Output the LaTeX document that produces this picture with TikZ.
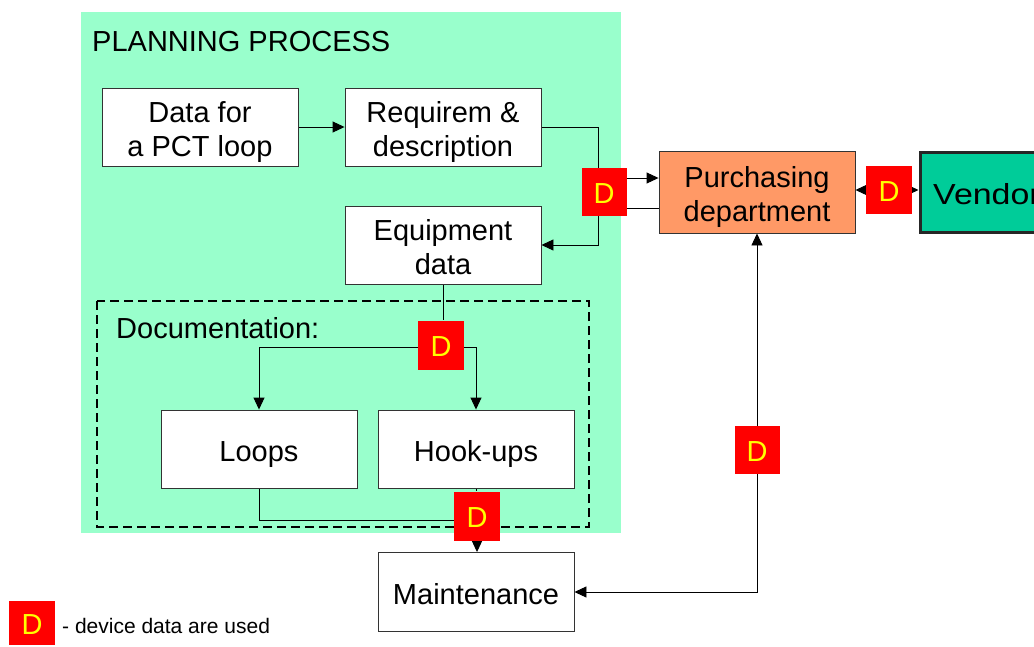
\documentclass[tikz,border=0pt]{standalone}
\usepackage{fontspec}
\setmainfont{Liberation Sans}
\usetikzlibrary{arrows.meta}
\pgfdeclarelayer{bg}
\pgfdeclarelayer{lines}
\pgfsetlayers{bg,lines,main}
\definecolor{planbg}{HTML}{99FFCC}
\definecolor{purchc}{HTML}{FF9966}
\definecolor{vendc}{HTML}{00CC99}
\definecolor{dred}{HTML}{FF0000}
\definecolor{dyel}{HTML}{FFFF00}
\tikzset{
  box/.style={draw=black!80, line width=0.9pt, fill=white, minimum width=196pt, minimum height=78pt, align=center, inner sep=0pt, text height=25pt, text depth=0pt, font=\fontsize{29}{34}\selectfont},
  twoline/.style={text height=59pt, text depth=0pt},
  dbox/.style={fill=dred, minimum width=46pt, minimum height=48pt, inner sep=0pt, text height=22pt, text depth=0pt, text=dyel, font=\fontsize{29}{34}\selectfont},
  conn/.style={draw=black, line width=0.9pt},
  arr/.style={conn, -{Triangle[length=12pt,width=11pt]}},
  lbl/.style={anchor=west, inner sep=0pt, font=\fontsize{29}{34}\selectfont},
}
\begin{document}
\begin{tikzpicture}[x=1pt,y=-1pt]
\clip (0,0) rectangle (1034,646);
\begin{pgfonlayer}{bg}
\fill[white] (0,0) rectangle (1034,646);
\fill[planbg] (81,12) rectangle (621,533);
\draw[line width=1.4pt, dash pattern=on 9pt off 5pt] (97,301) rectangle (589,527);
\end{pgfonlayer}
\node[lbl] (title) at (92,42) {PLANNING PROCESS};
\node[lbl] (doclbl) at (116,328) {Documentation:};
\node[box, twoline] (data) at (200,127) {Data for\\a PCT loop};
\node[box, twoline] (req) at (443,127) {Requirem \&\\description};
\node[box, twoline] (equip) at (443,245) {Equipment\\data};
\node[box, twoline, fill=purchc, minimum height=82pt] (purch) at (757,192) {Purchasing\\department};
\node[box, fill=vendc, minimum width=134pt, minimum height=80pt, line width=3pt, draw=black!85] (vendor) at (987,192) {\scalebox{1.17}[1]{Vendor}};
\node[box] (loops) at (259,449) {Loops};
\node[box] (hooks) at (476,449) {Hook-ups};
\node[box, minimum height=79pt] (maint) at (476,592) {Maintenance};
\node[dbox, minimum width=45pt] (d1) at (604,192) {D};
\node[dbox] (d2) at (889,190) {D};
\node[dbox, minimum height=49pt] (d3) at (441,345) {D};
\node[dbox, minimum height=49pt] (d4) at (477,516) {D};
\node[dbox, minimum width=45pt] (d5) at (757,450) {D};
\node[dbox, minimum height=44pt] (dl) at (32,623) {D};
\node[anchor=west, inner sep=0pt, font=\fontsize{21}{25}\selectfont] (legend) at (62,626) {- device data are used};
\begin{pgfonlayer}{lines}
\draw[arr] (data.east) -- (req.west);
\draw[arr] (req.east) -- ++(57,0) |- (equip.east);
\draw[arr] ([yshift=14pt]d1.east) -- ([yshift=14pt]d1.east -| purch.west);
\draw[conn] ([yshift=-16pt]d1.east) -- ([yshift=-16pt]d1.east -| purch.west);
\draw[arr] (d2.west) -- (d2.west -| purch.east);
\draw[arr] (d2.east) -- (d2.east -| vendor.west);
\draw[conn] (equip.south) -- (d3.north -| equip.south);
\draw[arr] ([yshift=-2pt]d3.west) -| (loops.north);
\draw[arr] ([yshift=-2pt]d3.east) -| (hooks.north);
\draw[conn] (loops.south) |- ([yshift=-4pt]d4.west);
\draw[conn] (hooks.south) -- (hooks.south |- d4.north);
\draw[arr] (d4.south) -- (d4.south |- maint.north);
\draw[arr] (d5.south) |- (maint.east);
\draw[arr] (d5.north) -- (purch.south);
\end{pgfonlayer}
\end{tikzpicture}
\end{document}
